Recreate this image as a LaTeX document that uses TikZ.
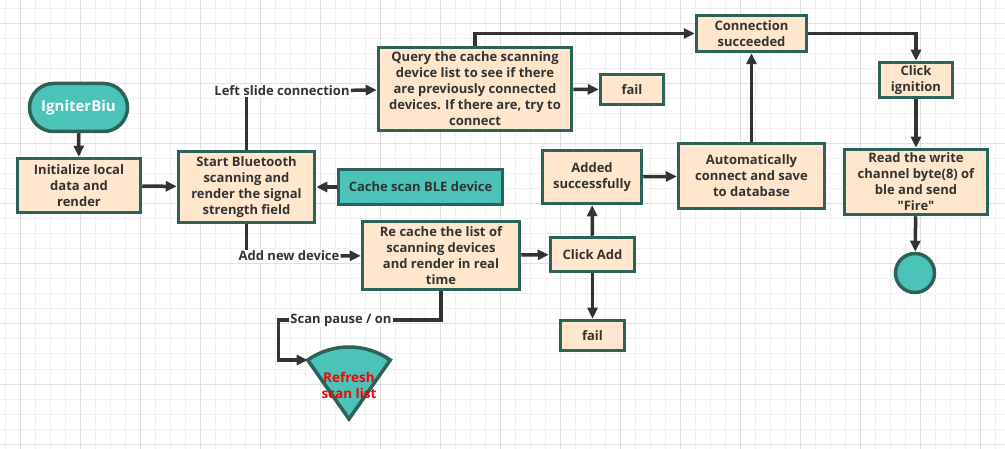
\documentclass[tikz,border=0pt]{standalone}
\usepackage{fontspec}
\setmainfont{Open Sans}
\usetikzlibrary{arrows.meta}
\definecolor{boxfill}{HTML}{FFE6CC}
\definecolor{boxline}{HTML}{2B6259}
\definecolor{tealfill}{HTML}{4CC3B8}
\definecolor{inkgray}{HTML}{333333}
\definecolor{gridminor}{HTML}{F0F0F0}
\definecolor{gridmajor}{HTML}{E0E0E0}

\begin{document}
\begin{tikzpicture}[x=1pt,y=-1pt]
	\tikzstyle{every node}+=[font=\fontsize{13}{16}\selectfont\bfseries, text=inkgray, align=center]
	\tikzstyle{proc}=[draw=boxline, fill=boxfill, line width=3.5pt, inner sep=0pt]
	\tikzstyle{term}=[draw=boxline, fill=tealfill, line width=3.5pt, inner sep=0pt]
	\tikzstyle{lbl}=[fill=white, inner sep=1pt]
	\tikzstyle{wire}=[draw=inkgray, line width=3.5pt]
	\tikzstyle{flow}=[wire, -{Triangle[length=11pt,width=10pt]}]
	\useasboundingbox (0,0) rectangle (1005,449);
	\fill[white] (0,0) rectangle (1005,449);
	% background grid
	\foreach \gx in {5,20,...,1000} \draw[gridminor, line width=1pt] (\gx,0) -- (\gx,449);
	\foreach \gy in {9,24,...,444} \draw[gridminor, line width=1pt] (0,\gy) -- (1005,\gy);
	\foreach \gx in {20,80,...,980} \draw[gridmajor, line width=1pt] (\gx,0) -- (\gx,449);
	\foreach \gy in {24,84,...,444} \draw[gridmajor, line width=1pt] (0,\gy) -- (1005,\gy);
	% boxes
	\node[term, rounded corners=24pt, minimum width=98pt, minimum height=48pt, text=white, font=\fontsize{15}{18}\selectfont\bfseries] (ign) at (78.5,107.5) {IgniterBiu};
	\node[proc, minimum width=123pt, minimum height=54pt] (init) at (79,185.5) {Initialize local\\data and\\render};
	\node[proc, minimum width=136pt, minimum height=71pt] (scan) at (246.5,187) {Start Bluetooth\\scanning and\\render the signal\\strength field};
	\node[term, minimum width=164pt, minimum height=35pt] (cache) at (420.5,187) {Cache scan BLE device};
	\node[proc, minimum width=193pt, minimum height=83pt] (query) at (475,89) {Query the cache scanning\\device list to see if there\\are previously connected\\devices. If there are, try to\\connect};
	\node[proc, minimum width=63pt, minimum height=30pt] (failq) at (632,89.5) {fail};
	\node[proc, minimum width=110pt, minimum height=36pt] (conn) at (751.5,33.5) {Connection\\succeeded};
	\node[proc, minimum width=73pt, minimum height=35pt] (fire) at (916,80) {Click\\ignition};
	\node[proc, minimum width=143pt, minimum height=65pt] (write) at (916,182) {Read the write\\channel byte(8) of\\ble and send\\\textquotedbl Fire\textquotedbl};
	\node[term, circle, minimum size=39pt] (stop) at (915,273) {};
	\node[proc, minimum width=157pt, minimum height=68pt] (relist) at (441,255.5) {Re cache the list of\\scanning devices\\and render in real\\time};
	\node[proc, minimum width=84pt, minimum height=34pt] (add) at (592.5,254.5) {Click Add};
	\node[proc, minimum width=99pt, minimum height=53pt] (added) at (592,177) {Added\\successfully};
	\node[proc, minimum width=146pt, minimum height=65pt] (auto) at (751.5,176) {Automatically\\connect and save\\to database};
	\node[proc, minimum width=64pt, minimum height=30pt] (faila) at (592.5,335.5) {fail};
	% sector
	\coordinate (apex) at (349,419);
	\draw[term] (apex) -- ++(-125:72) coordinate (fanl) arc[start angle=-125, end angle=-55, radius=72] -- cycle;
	\node[text=red, font=\fontsize{13.5}{16}\selectfont\bfseries] (fantext) at (349,385) {Refresh\\scan list};
	% edge labels
	\node[lbl] (lleft) at (282,91) {Left slide connection};
	\node[lbl] (lnew) at (289,256) {Add new device};
	\node[lbl] (lpause) at (341,320) {Scan pause / on};
	% connectors
	\draw[flow] (ign) -- (init);
	\draw[flow] (init) -- (scan);
	\draw[flow] (cache) -- (scan);
	\draw[wire] (scan.north) -- (scan.north |- lleft.south);
	\draw[flow] (lleft) -- (query);
	\draw[flow] (query) -- (failq);
	\draw[flow] (query.north) |- (conn.west);
	\draw[flow] (conn.east) -| (fire.north);
	\draw[flow] (fire) -- (write);
	\draw[flow] (write) -- (stop);
	\draw[wire] (scan.south) -- (scan.south |- lnew.north);
	\draw[flow] (lnew) -- (relist);
	\draw[flow] (relist) -- (add);
	\draw[flow] (add) -- (added);
	\draw[flow] (added) -- (auto);
	\draw[flow] (auto) -- (conn);
	\draw[flow] (add) -- (faila);
	\draw[wire] (relist.south) |- (lpause.east);
	\draw[flow] (lpause.west) -- ++(-11,0) |- (fanl);
\end{tikzpicture}
\end{document}
